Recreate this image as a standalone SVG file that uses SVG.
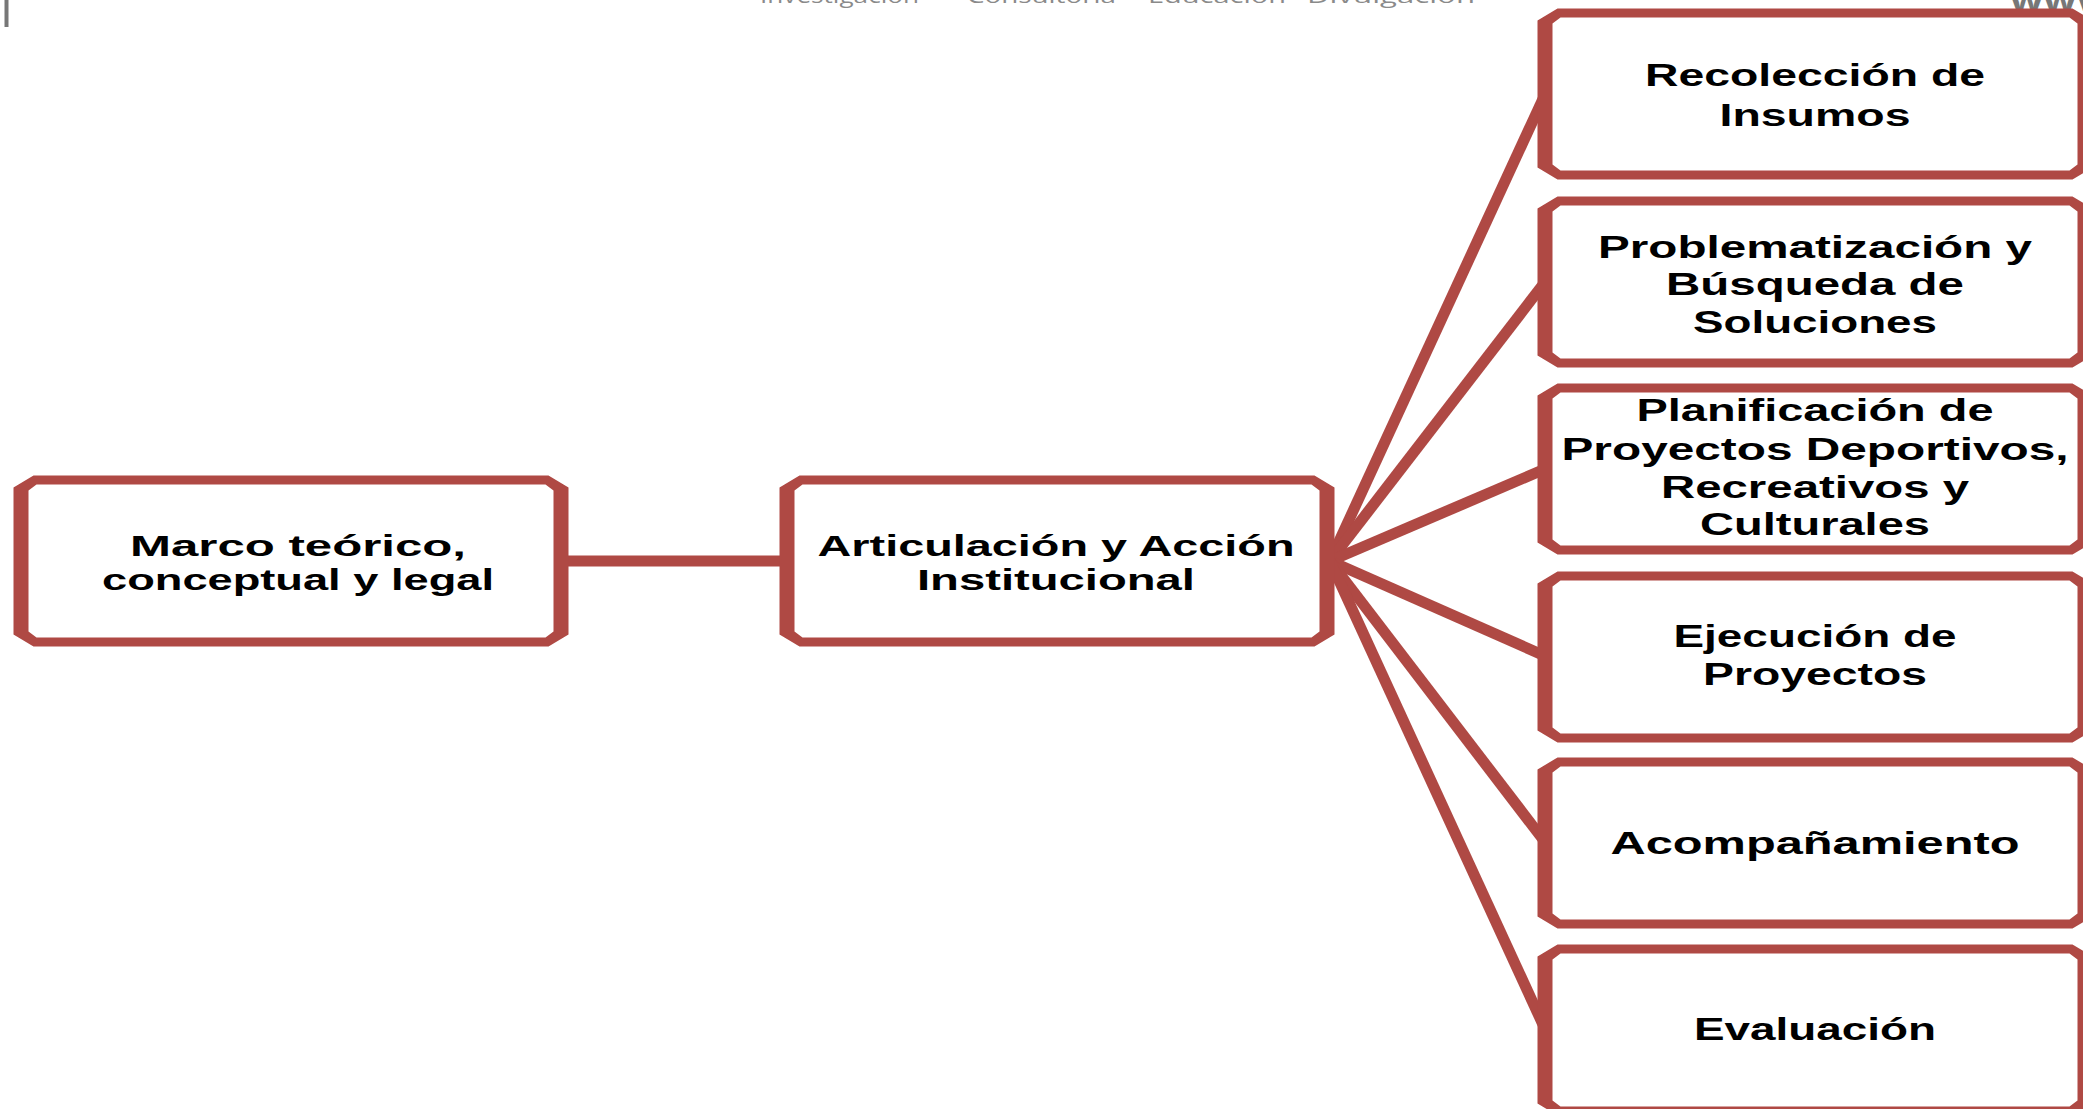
<svg xmlns="http://www.w3.org/2000/svg" xmlns:xlink="http://www.w3.org/1999/xlink" width="2083" height="1109" viewBox="0 0 2083 1109">
<defs>
<style>
.ring{fill:#af4944;fill-rule:evenodd}
.lbl{font-family:"Liberation Sans",Arial,sans-serif;font-weight:700;font-size:32px;fill:#000;text-anchor:middle}
.lbl2{font-family:"Liberation Sans",Arial,sans-serif;font-weight:700;font-size:29px;fill:#000;text-anchor:middle}
.hdr{font-family:"Open Sans","Liberation Sans",sans-serif;font-size:20px;fill:#8a8a8a}
.conn{stroke:#af4944;stroke-width:11;fill:none;stroke-linecap:butt}
</style>
<path id="box" class="ring" d="M12.5,-4.5 H527.5 L547.5,7.5 V154.5 L527.5,166.5 H12.5 L-7.5,154.5 V7.5 Z M15.5,4.5 H524.5 L532.5,10.5 V151.5 L524.5,157.5 H15.5 L7.5,151.5 V10.5 Z"/>
</defs>
<rect width="2083" height="1109" fill="#fff"/>
<g id="header">
<line x1="6.5" y1="0" x2="6.5" y2="27" stroke="#777" stroke-width="4"/>
<text class="hdr" x="760" y="3" textLength="159" lengthAdjust="spacingAndGlyphs">Investigación</text>
<text class="hdr" x="967" y="3" textLength="149" lengthAdjust="spacingAndGlyphs" fill="#9a8080">Consultoría</text>
<text class="hdr" x="1148" y="3" textLength="138" lengthAdjust="spacingAndGlyphs">Educación</text>
<text class="hdr" x="1307" y="3" textLength="168" lengthAdjust="spacingAndGlyphs">Divulgación</text>
<text x="2010" y="11" font-family="Open Sans, Liberation Sans, sans-serif" font-weight="700" font-size="30" fill="#777" textLength="100" lengthAdjust="spacingAndGlyphs">www</text>
</g>
<g id="connectors">
<line class="conn" x1="568" y1="561" x2="780" y2="561" stroke-width="10" stroke="#a94442"/>
<line class="conn" x1="1330" y1="561" x2="1545" y2="94.5"/>
<line class="conn" x1="1330" y1="561" x2="1545" y2="282"/>
<line class="conn" x1="1330" y1="561" x2="1545" y2="469"/>
<line class="conn" x1="1330" y1="561" x2="1545" y2="656"/>
<line class="conn" x1="1330" y1="561" x2="1545" y2="842"/>
<line class="conn" x1="1330" y1="561" x2="1545" y2="1029"/>
</g>
<g id="node-marco">
<use xlink:href="#box" href="#box" x="21" y="480"/>
<text class="lbl2" x="298" y="556" textLength="336" lengthAdjust="spacingAndGlyphs">Marco teórico,</text>
<text class="lbl2" x="298" y="590" textLength="392" lengthAdjust="spacingAndGlyphs">conceptual y legal</text>
</g>
<g id="node-articulacion">
<use xlink:href="#box" href="#box" x="787" y="480"/>
<text class="lbl2" x="1056" y="556" textLength="477" lengthAdjust="spacingAndGlyphs">Articulación y Acción</text>
<text class="lbl2" x="1056" y="590" textLength="278" lengthAdjust="spacingAndGlyphs">Institucional</text>
</g>
<g id="node-recoleccion">
<use xlink:href="#box" href="#box" x="1545" y="13"/>
<text class="lbl" x="1815" y="86" textLength="340" lengthAdjust="spacingAndGlyphs">Recolección de</text>
<text class="lbl" x="1815" y="126" textLength="191" lengthAdjust="spacingAndGlyphs">Insumos</text>
</g>
<g id="node-problematizacion">
<use xlink:href="#box" href="#box" x="1545" y="201"/>
<text class="lbl" x="1815" y="258" textLength="434" lengthAdjust="spacingAndGlyphs">Problematización y</text>
<text class="lbl" x="1815" y="295" textLength="298" lengthAdjust="spacingAndGlyphs">Búsqueda de</text>
<text class="lbl" x="1815" y="333" textLength="244" lengthAdjust="spacingAndGlyphs">Soluciones</text>
</g>
<g id="node-planificacion">
<use xlink:href="#box" href="#box" x="1545" y="388"/>
<text class="lbl" x="1815" y="421" textLength="357" lengthAdjust="spacingAndGlyphs">Planificación de</text>
<text class="lbl" x="1815" y="460" textLength="507" lengthAdjust="spacingAndGlyphs">Proyectos Deportivos,</text>
<text class="lbl" x="1815" y="498" textLength="308" lengthAdjust="spacingAndGlyphs">Recreativos y</text>
<text class="lbl" x="1815" y="535" textLength="230" lengthAdjust="spacingAndGlyphs">Culturales</text>
</g>
<g id="node-ejecucion">
<use xlink:href="#box" href="#box" x="1545" y="576"/>
<text class="lbl" x="1815" y="647" textLength="283" lengthAdjust="spacingAndGlyphs">Ejecución de</text>
<text class="lbl" x="1815" y="685" textLength="224" lengthAdjust="spacingAndGlyphs">Proyectos</text>
</g>
<g id="node-acompanamiento">
<use xlink:href="#box" href="#box" x="1545" y="762"/>
<text class="lbl" x="1815" y="854" textLength="409" lengthAdjust="spacingAndGlyphs">Acompañamiento</text>
</g>
<g id="node-evaluacion">
<use xlink:href="#box" href="#box" x="1545" y="949"/>
<text class="lbl" x="1815" y="1040" textLength="242" lengthAdjust="spacingAndGlyphs">Evaluación</text>
</g>
</svg>
